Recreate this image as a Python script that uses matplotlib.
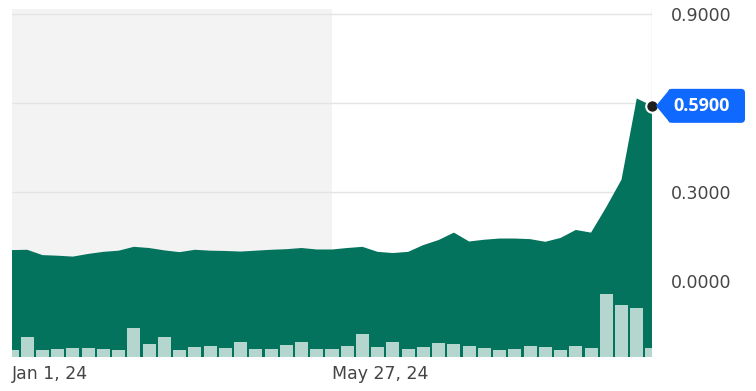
import matplotlib.pyplot as plt
import matplotlib.dates as mdates
from matplotlib.patches import Polygon, FancyBboxPatch
from matplotlib.transforms import IdentityTransform
import pandas as pd

plt.rcParams["font.family"] = ["DejaVu Sans"]

# weekly closes, Jan 1 2024 -> Oct 21 2024
weeks = pd.date_range("2024-01-01", periods=43, freq="W-MON")
price = [0.103, 0.104, 0.086, 0.084, 0.081, 0.090, 0.097, 0.101, 0.114, 0.110,
         0.102, 0.096, 0.104, 0.101, 0.100, 0.098, 0.101, 0.104, 0.106, 0.110,
         0.105, 0.105, 0.110, 0.114, 0.097, 0.093, 0.097, 0.120, 0.137, 0.162,
         0.132, 0.138, 0.142, 0.142, 0.140, 0.131, 0.144, 0.171, 0.162, 0.248,
         0.341, 0.615, 0.590]
# weekly volume (arbitrary units)
volume = [67, 200, 73, 83, 90, 93, 83, 73, 287, 130,
          200, 73, 100, 110, 90, 147, 83, 77, 123, 153,
          83, 83, 110, 233, 97, 147, 77, 100, 143, 127,
          110, 90, 73, 80, 107, 100, 70, 110, 93, 627,
          517, 490, 93]

ytick_vals = [0.0, 0.3, 0.6, 0.9]
ytick_labels = ["0.0000", "0.3000", "", "0.9000"]
xtick_dates = [pd.Timestamp("2024-01-01"), pd.Timestamp("2024-05-27")]
xtick_labels = ["Jan 1, 24", "May 27, 24"]
last_label = "0.5900"

GREEN = "#03735d"
BAR = "#b5d6cf"
TXT = "#454545"

W, H = 756, 391
fig = plt.figure(figsize=(W / 100, H / 100), dpi=100)
ax = fig.add_axes([12 / W, (H - 357) / H, 640 / W, 348 / H])

ax.axvspan(weeks[0], xtick_dates[1], color="#f3f3f3", zorder=0, lw=0)
ax.fill_between(weeks, price, -1, color=GREEN, lw=0, zorder=1)
ax.axvline(weeks[-1], color="#dcdcdc", lw=1, zorder=0.8)

ax.set_xlim(weeks[0], weeks[-1])
ax.set_ylim(-0.258, 0.917)
ax.set_axisbelow(True)
ax.grid(axis="y", color="#e4e4e4", lw=1)
for s in ax.spines.values():
    s.set_visible(False)

# volume bars overlaid at the bottom
ax2 = ax.twinx()
ax2.bar(weeks, volume, width=6, color=BAR, lw=0)
ax2.set_ylim(0, max(volume) * 348 / 63)
ax2.set_xlim(weeks[0], weeks[-1])
ax2.set_yticks([])
for s in ax2.spines.values():
    s.set_visible(False)

# price axis labels on the right (after twinx, which resets them)
ax.yaxis.tick_right()
ax.set_yticks(ytick_vals)
ax.set_yticklabels(ytick_labels)
ax.tick_params(axis="y", which="both", left=False, right=False,
               labelleft=False, labelright=True,
               length=0, pad=13.5, labelsize=12.5, labelcolor=TXT)
ax.set_xticks(xtick_dates)
ax.set_xticklabels(xtick_labels)
ax.tick_params(axis="x", length=0, pad=6, labelsize=12.5, labelcolor=TXT)
for lab in ax.get_xticklabels():
    lab.set_ha("left")

# last price dot + tag
px, py = ax.transData.transform((mdates.date2num(weeks[-1]), price[-1]))
ax2.plot([weeks[-1]], [ax2.transData.inverted().transform((px, py))[1]], "o",
         ms=9, mfc="#1f1f1f", mec="white", mew=1.5, zorder=6, clip_on=False)
tag_col = "#0f69ff"
x0 = px + 4
x1 = px + 18
x2 = px + 93
h = 17
tri = Polygon([(x0, py), (x1, py + h), (x1, py - h)], closed=True,
              transform=IdentityTransform(), color=tag_col, lw=0, zorder=5)
box = FancyBboxPatch((x1 - 2, py - h), x2 - x1 + 2, 2 * h,
                     boxstyle="round,pad=0,rounding_size=4",
                     transform=IdentityTransform(), color=tag_col, lw=0, zorder=5)
fig.add_artist(tri)
fig.add_artist(box)
fig.text((px + 50) / W, py / H, last_label, color="white", fontsize=13,
         fontweight="bold", family=["Open Sans", "DejaVu Sans"],
         ha="center", va="center", zorder=7)

fig.savefig("out.png", dpi=100, facecolor="white")
